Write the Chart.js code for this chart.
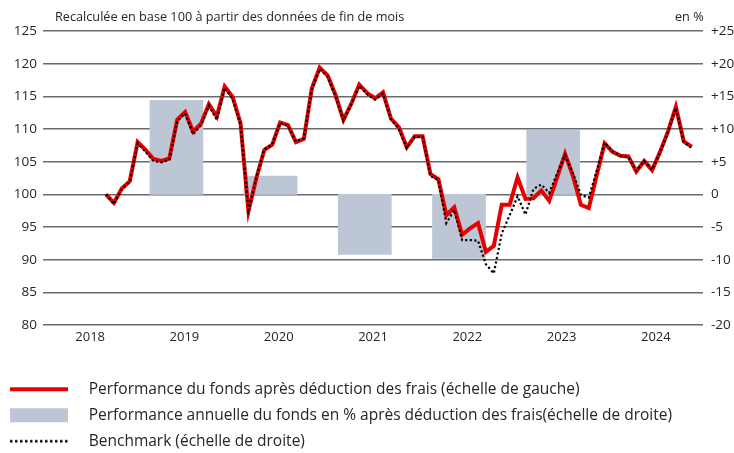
<!DOCTYPE html>
<html>
<head>
<meta charset="utf-8">
<script src="https://cdn.jsdelivr.net/npm/chart.js@4/dist/chart.umd.min.js"></script>
<style>
html,body{margin:0;padding:0;background:#fff;}
#wrap{width:734px;height:453px;position:relative;}
</style>
</head>
<body>
<div id="wrap"><canvas id="c" width="734" height="453"></canvas></div>
<script>
// ---- data ----
const yearLabels = ['2018','2019','2020','2021','2022','2023','2024'];
const firstMonth = 8; // Sept 2018, months counted from Jan 2018 = 0
const fundValues = [100.0,98.7,100.9,102.0,108.0,106.8,105.4,105.1,105.5,111.4,112.6,109.6,
  110.8,113.8,111.9,116.5,114.9,110.9,97.4,102.5,106.8,107.6,111.0,110.6,
  108.0,108.5,116.2,119.4,118.2,115.2,111.4,113.9,116.8,115.5,114.7,115.6,
  111.6,110.3,107.2,108.9,108.9,103.1,102.3,96.8,98.0,93.8,94.8,95.6,
  91.2,92.1,98.4,98.4,102.6,99.3,99.4,100.6,99.0,102.6,106.2,102.8,
  98.4,97.9,102.9,107.8,106.5,105.9,105.8,103.5,105.1,103.7,106.5,109.6,
  113.4,108.1,107.3];
const benchmarkValues = [100.0,98.5,100.8,101.9,107.8,106.5,105.1,104.9,105.3,111.2,112.4,109.2,
  110.6,113.6,111.4,116.3,114.6,110.6,97.6,102.6,106.9,107.6,110.9,110.5,
  108.1,108.6,116.0,119.2,118.0,115.0,111.3,113.8,116.6,115.3,114.5,115.4,
  111.5,110.0,107.1,108.8,108.8,102.8,102.2,95.6,97.6,93.0,93.0,92.9,
  89.3,87.9,94.0,96.8,99.7,96.9,100.8,101.5,100.2,103.2,106.0,103.2,
  99.9,99.5,103.6,107.9,106.6,105.9,105.7,103.6,105.1,103.8,106.4,109.5,
  113.2,108.0,107.1];
const annualYears = [2019,2020,2021,2022,2023];
const annualPerf = [14.4, 2.8, -9.2, -9.8, 9.8];
const leftTicks = [80,85,90,95,100,105,110,115,120,125];
const rightTicks = [-20,-15,-10,-5,0,5,10,15,20,25];
const headerLeft = 'Recalculée en base 100 à partir des données de fin de mois';
const headerRight = 'en %';
const seriesNames = [
  'Performance du fonds après déduction des frais (échelle de gauche)',
  'Performance annuelle du fonds en % après déduction des frais(échelle de droite)',
  'Benchmark (échelle de droite)'
];

// ---- styles ----
const RED = '#e60000';
const BAR = '#bcc6d4';
const GRID = '#6a6a6a';
const TXT = '#262626';
const FONT = "'Open Sans', 'DejaVu Sans', sans-serif";

const fundPts = fundValues.map((v,i)=>({x: firstMonth + i, y: v}));
const benchPts = benchmarkValues.map((v,i)=>({x: firstMonth + i, y: v}));
const barPts = annualYears.map((yr,i)=>({x: (yr-2018)*11.9 + 5, y: annualPerf[i]}));

function glyph(kind){
  const c = document.createElement('canvas');
  c.width = 71; c.height = 16;
  const g = c.getContext('2d');
  if (kind === 'rect') { g.fillStyle = BAR; g.fillRect(0,1,58,14); }
  else {
    g.beginPath(); g.moveTo(0,8); g.lineTo(58,8);
    if (kind === 'red') { g.strokeStyle = RED; g.lineWidth = 4; }
    else { g.strokeStyle = '#000'; g.lineWidth = 2.5; g.setLineDash([2.5,2.5]); }
    g.stroke();
  }
  return c;
}
const glyphs = [glyph('red'), glyph('rect'), glyph('dot')];

const headerPlugin = {
  id: 'header',
  afterDraw(chart){
    const ctx = chart.ctx;
    ctx.save();
    ctx.font = "12.7px " + FONT;
    ctx.fillStyle = TXT;
    ctx.textBaseline = 'middle';
    ctx.textAlign = 'left';
    ctx.fillText(headerLeft, 55, 17);
    ctx.fillText(headerRight, 675, 17);
    ctx.restore();
  }
};

new Chart(document.getElementById('c'), {
  data: {
    labels: yearLabels,
    datasets: [
      { type:'line', label: seriesNames[2], data: benchPts, xAxisID:'xm', yAxisID:'y',
        borderColor:'#000', borderWidth:2.2, borderDash:[2.2,2.4], pointRadius:0, tension:0, order:1 },
      { type:'line', label: seriesNames[0], data: fundPts, xAxisID:'xm', yAxisID:'y',
        borderColor:RED, borderWidth:4, pointRadius:0, tension:0, order:2 },
      { type:'bar', label: seriesNames[1], data: barPts, xAxisID:'xm', yAxisID:'y2',
        backgroundColor:BAR, borderWidth:0, barThickness:53, order:3 }
    ]
  },
  options: {
    responsive:false, animation:false,
    layout:{ padding:{ top:31, left:-0.5, right:0, bottom:-6 } },
    plugins:{
      tooltip:{enabled:false},
      legend:{
        position:'bottom', align:'start',
        labels:{
          usePointStyle:true, pointStyleWidth:71, padding:10.5,
          font:{ size:15.5, family:FONT }, color:TXT,
          generateLabels(){
            return seriesNames.map((t,i)=>({ text:t, pointStyle:glyphs[i], fillStyle:'#000',
              strokeStyle:'#000', lineWidth:0, hidden:false, fontColor:TXT, datasetIndex:i }));
          }
        }
      }
    },
    scales:{
      x:{ type:'category', position:'bottom', offset:true,
        grid:{display:false, drawTicks:false}, border:{display:false},
        ticks:{ font:{size:13, family:FONT}, color:TXT, padding:4, maxRotation:0 },
        afterFit(s){ s.height = 46; } },
      xm:{ type:'linear', display:false, offset:false, min:0.04, max:83.43 },
      y:{ position:'left', min:80, max:125,
        afterBuildTicks(s){ s.ticks = leftTicks.map(v=>({value:v})); },
        grid:{ color:GRID, lineWidth:1.6, drawTicks:false }, border:{display:false},
        ticks:{ font:{size:13.5, family:FONT}, color:TXT, padding:6 },
        afterFit(s){ s.width = 43.5; } },
      y2:{ position:'right', min:-20, max:25,
        afterBuildTicks(s){ s.ticks = rightTicks.map(v=>({value:v})); },
        grid:{ display:false, drawTicks:false }, border:{display:false},
        ticks:{ font:{size:13.5, family:FONT}, color:TXT, padding:8,
          callback:(v)=> v>0 ? '+'+v : ''+v },
        afterFit(s){ s.width = 31; } }
    }
  },
  plugins:[headerPlugin]
});
</script>
</body>
</html>
